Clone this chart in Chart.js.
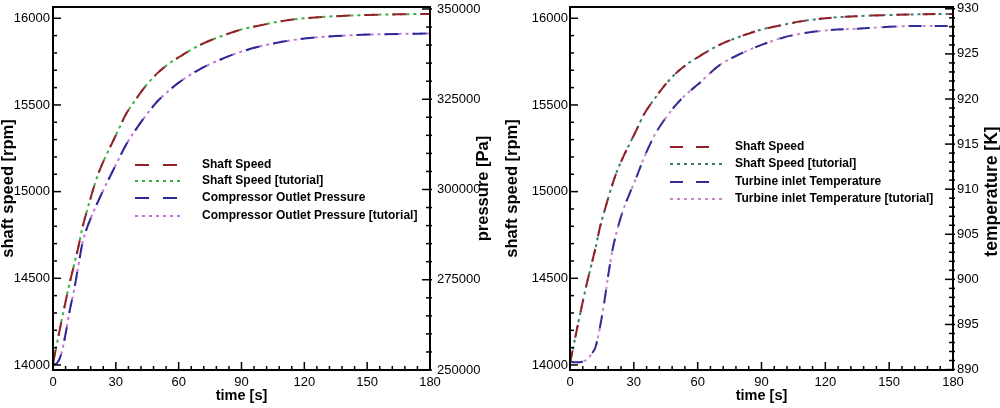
<!DOCTYPE html>
<html>
<head>
<meta charset="utf-8">
<script src="https://cdn.jsdelivr.net/npm/chart.js@4.4.0/dist/chart.umd.min.js"></script>
<style>
  body { margin: 0; background: #fff; }
  #wrap { position: relative; width: 1000px; height: 408px; }
  canvas { position: absolute; top: 0; }
</style>
</head>
<body>
<div id="wrap">
  <canvas id="left" width="500" height="408" style="left:0"></canvas>
  <canvas id="right" width="500" height="408" style="left:500px"></canvas>
</div>
<script>
// time [s]
const time = [0, 2, 4, 6, 8, 10, 12, 14, 16, 18, 20, 22, 25, 28, 31, 35, 40, 45, 50, 55, 60, 70, 80, 90, 100, 110, 120, 135, 150, 165, 180];

// shaft speed [rpm]
const shaftSpeed = [14010, 14130, 14250, 14365, 14475, 14575, 14675, 14790, 14880, 14965, 15045, 15115, 15200, 15275, 15350, 15450, 15540, 15620, 15685, 15735, 15775, 15845, 15895, 15935, 15962, 15985, 16000, 16012, 16019, 16023, 16025];
const shaftSpeedTutorial = [14010, 14130, 14250, 14365, 14475, 14575, 14675, 14790, 14880, 14965, 15045, 15115, 15200, 15275, 15350, 15450, 15540, 15620, 15685, 15735, 15775, 15845, 15895, 15935, 15962, 15985, 16000, 16012, 16019, 16023, 16025];

// compressor outlet pressure [Pa]
const pressure = [251500, 252000, 254500, 260000, 266500, 272000, 278500, 285000, 289000, 292000, 294700, 297300, 301000, 304500, 308000, 312500, 317000, 321000, 324500, 327200, 329600, 333300, 336000, 338200, 339800, 341000, 341800, 342500, 342900, 343100, 343200];
const pressureTutorial = [251500, 252000, 254500, 260000, 266500, 272000, 278500, 285000, 289000, 292000, 294700, 297300, 301000, 304500, 308000, 312500, 317000, 321000, 324500, 327200, 329600, 333300, 336000, 338200, 339800, 341000, 341800, 342500, 342900, 343100, 343200];

// turbine inlet temperature [K]
const temperature = [890.9, 890.8, 890.8, 890.9, 891.1, 891.7, 892.5, 894.6, 897.3, 900.5, 903.3, 905.3, 907.7, 909.5, 911.2, 913.6, 916.1, 917.9, 919.4, 920.6, 921.6, 923.7, 925.0, 926.0, 926.8, 927.3, 927.6, 927.8, 928.0, 928.1, 928.1];
const temperatureTutorial = [890.9, 890.8, 890.8, 890.9, 891.1, 891.7, 892.5, 894.6, 897.3, 900.5, 903.3, 905.3, 907.7, 909.5, 911.2, 913.6, 916.1, 917.9, 919.4, 920.6, 921.6, 923.7, 925.0, 926.0, 926.8, 927.3, 927.6, 927.8, 928.0, 928.1, 928.1];

// tick labels
const timeTicks = [0, 30, 60, 90, 120, 150, 180];
const speedTicks = [14000, 14500, 15000, 15500, 16000];
const pressureTicks = [250000, 275000, 300000, 325000, 350000];
const temperatureTicks = [890, 895, 900, 905, 910, 915, 920, 925, 930];

const FONT = '"Liberation Sans", Arial, sans-serif';

function points(ys) {
  return time.map((t, i) => ({ x: t, y: ys[i] }));
}

// plot frame
const frame = {
  id: "frame",
  afterDatasetsDraw(chart) {
    const { ctx, chartArea: a } = chart;
    ctx.save();
    ctx.strokeStyle = "#000";
    ctx.lineWidth = 2;
    ctx.strokeRect(a.left, a.top, a.right - a.left, a.bottom - a.top);
    ctx.restore();
  },
};

// inward tick marks, major + minor
const tickMarks = {
  id: "tickMarks",
  afterDatasetsDraw(chart, args, opts) {
    const { ctx, chartArea: a } = chart;
    ctx.save();
    ctx.strokeStyle = "#000";
    ctx.lineWidth = 1.5;
    for (const id in opts.axes) {
      const s = chart.scales[id];
      const o = opts.axes[id];
      const start = Math.ceil(s.min / o.minor) * o.minor;
      for (let i = 0; ; i++) {
        const v = start + i * o.minor;
        if (v > s.max + 1e-9) break;
        const r = v / o.major;
        const len = Math.abs(r - Math.round(r)) < 1e-6 ? 8 : 4;
        const p = s.getPixelForValue(v);
        ctx.beginPath();
        if (s.position === "bottom") {
          ctx.moveTo(p, a.bottom);
          ctx.lineTo(p, a.bottom - len);
        } else if (s.position === "left") {
          ctx.moveTo(a.left, p);
          ctx.lineTo(a.left + len, p);
        } else {
          ctx.moveTo(a.right + 2, p);
          ctx.lineTo(a.right - len, p);
        }
        ctx.stroke();
      }
    }
    ctx.restore();
  },
};

// right axis title, reads bottom to top like the left one
const sideTitle = {
  id: "sideTitle",
  afterDraw(chart, args, opts) {
    const { ctx, chartArea: a } = chart;
    ctx.save();
    ctx.font = "bold " + opts.size + "px " + FONT;
    ctx.fillStyle = "#000";
    ctx.textAlign = "center";
    ctx.textBaseline = "middle";
    ctx.translate(opts.x, (a.top + a.bottom) / 2 + opts.dy);
    ctx.rotate(-Math.PI / 2);
    ctx.fillText(opts.text, 0, 0);
    ctx.restore();
  },
};

// legend inside the plot, no box
const innerLegend = {
  id: "innerLegend",
  afterDraw(chart, args, opts) {
    const ctx = chart.ctx;
    chart.data.datasets.forEach((ds, i) => {
      const y = opts.rows[i];
      ctx.save();
      ctx.strokeStyle = ds.borderColor;
      ctx.lineWidth = 2;
      ctx.setLineDash(ds.borderDash);
      ctx.beginPath();
      ctx.moveTo(opts.x0, y);
      ctx.lineTo(opts.x1, y);
      ctx.stroke();
      ctx.setLineDash([]);
      ctx.font = "bold 12px " + FONT;
      ctx.fillStyle = "#000";
      ctx.textBaseline = "middle";
      ctx.fillText(ds.label, opts.textX, y);
      ctx.restore();
    });
  },
};

function line(label, data, color, dash, axis) {
  return {
    label: label,
    data: points(data),
    borderColor: color,
    borderDash: dash,
    borderWidth: 2,
    pointRadius: 0,
    fill: false,
    cubicInterpolationMode: "monotone",
    yAxisID: axis,
  };
}

// label gap comes from tickLength (grid hidden), so it doesn't push the chart area
function tickOpts() {
  return {
    color: "#000",
    font: { family: FONT, size: 13, lineHeight: 1 },
    padding: 0,
    autoSkip: false,
    maxRotation: 0,
    callback: (v) => String(v),
  };
}

function gridOpts(gap) {
  return { display: false, drawTicks: true, tickLength: gap };
}

function setTicks(list) {
  return (s) => {
    s.ticks = list.map((v) => ({ value: v }));
  };
}

function xScale() {
  return {
    type: "linear",
    position: "bottom",
    min: 0,
    max: 180,
    afterBuildTicks: setTicks(timeTicks),
    afterFit: (s) => { s.height = 38; },
    ticks: tickOpts(),
    grid: gridOpts(6),
    border: { display: false },
    title: {
      display: true,
      text: "time [s]",
      color: "#000",
      font: { family: FONT, size: 14.5, weight: "bold", lineHeight: 1.2 },
      padding: { top: 0, bottom: 3 },
    },
  };
}

function speedScale(width, gap, titlePad) {
  return {
    type: "linear",
    position: "left",
    min: 13971,
    max: 16065,
    afterBuildTicks: setTicks(speedTicks),
    afterFit: (s) => { s.width = width; },
    ticks: tickOpts(),
    grid: gridOpts(gap),
    border: { display: false },
    title: {
      display: true,
      text: "shaft speed [rpm]",
      color: "#000",
      font: { family: FONT, size: 16.5, weight: "bold", lineHeight: 1 },
      padding: { top: titlePad, bottom: 0 },
    },
  };
}

const common = {
  responsive: false,
  animation: false,
  devicePixelRatio: 1,
  layout: { padding: { top: 7, left: 0, right: 0, bottom: 0 } },
};

// left chart: speed + pressure
new Chart(document.getElementById("left").getContext("2d"), {
  type: "line",
  data: {
    datasets: [
      line("Shaft Speed", shaftSpeed, "rgb(150,30,40)", [14, 14], "y"),
      line("Shaft Speed [tutorial]", shaftSpeedTutorial, "rgb(60,175,70)", [3, 4], "y"),
      line("Compressor Outlet Pressure", pressure, "rgb(45,40,150)", [14, 14], "y1"),
      line("Compressor Outlet Pressure [tutorial]", pressureTutorial, "rgb(195,115,225)", [3, 4], "y1"),
    ],
  },
  options: {
    ...common,
    scales: {
      x: xScale(),
      y: speedScale(53, 3, 0),
      y1: {
        type: "linear",
        position: "right",
        min: 250000,
        max: 350550,
        afterBuildTicks: setTicks(pressureTicks),
        afterFit: (s) => { s.width = 70; },
        ticks: tickOpts(),
        grid: gridOpts(7),
        border: { display: false },
      },
    },
    plugins: {
      legend: { display: false },
      tooltip: { enabled: false },
      tickMarks: { axes: { x: { minor: 6, major: 30 }, y: { minor: 100, major: 500 }, y1: { minor: 5000, major: 25000 } } },
      sideTitle: { text: "pressure [Pa]", x: 483, size: 16.5, dy: 0 },
      innerLegend: { x0: 135, x1: 182, textX: 202, rows: [165, 181, 198, 216] },
    },
  },
  plugins: [frame, tickMarks, sideTitle, innerLegend],
});

// right chart: speed + temperature
new Chart(document.getElementById("right").getContext("2d"), {
  type: "line",
  data: {
    datasets: [
      line("Shaft Speed", shaftSpeed, "rgb(150,30,40)", [13, 13], "y"),
      line("Shaft Speed [tutorial]", shaftSpeedTutorial, "rgb(60,125,110)", [3, 4], "y"),
      line("Turbine inlet Temperature", temperature, "rgb(50,45,150)", [13, 13], "y1"),
      line("Turbine inlet Temperature [tutorial]", temperatureTutorial, "rgb(200,135,200)", [3, 4], "y1"),
    ],
  },
  options: {
    ...common,
    scales: {
      x: xScale(),
      y: speedScale(70, 2, 4),
      y1: {
        type: "linear",
        position: "right",
        min: 889.95,
        max: 930.2,
        afterBuildTicks: setTicks(temperatureTicks),
        afterFit: (s) => { s.width = 47; },
        ticks: tickOpts(),
        grid: gridOpts(4),
        border: { display: false },
      },
    },
    plugins: {
      legend: { display: false },
      tooltip: { enabled: false },
      tickMarks: { axes: { x: { minor: 6, major: 30 }, y: { minor: 100, major: 500 }, y1: { minor: 1, major: 5 } } },
      sideTitle: { text: "temperature [K]", x: 492, size: 17.5, dy: 3 },
      innerLegend: { x0: 170, x1: 222, textX: 235, rows: [147, 164, 182, 199] },
    },
  },
  plugins: [frame, tickMarks, sideTitle, innerLegend],
});
</script>
</body>
</html>
